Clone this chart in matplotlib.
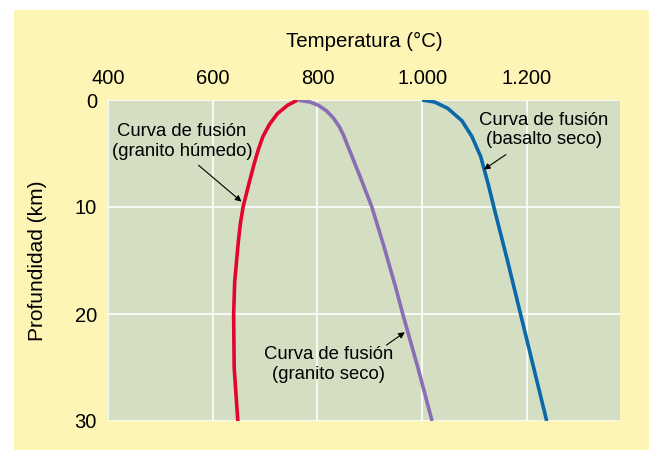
import matplotlib.pyplot as plt
from matplotlib.patches import Rectangle

# ---------------- data ----------------
# granito humedo (red)
hum_depth = [0, 0.49, 1.26, 2.23, 3.4, 4.66, 6.0, 7.57, 10, 11.5, 13.2, 17.0, 20, 25, 30]
hum_temp = [762, 743, 724, 709, 696, 687, 679, 670.5, 658, 653, 649, 642, 640, 641, 648]

# granito seco (purple)
gsec_depth = [0, 0.19, 0.5, 1.0, 1.65, 2.5, 3.3, 4.17, 7.09, 10, 13.5, 17.6, 20, 25.2, 30]
gsec_temp = [762, 786, 802, 817, 830, 842, 850, 857, 881, 904, 926, 950, 963, 993, 1019]

# basalto seco (blue)
bas_depth = [0, 0.19, 0.78, 1.94, 3.4, 5.3, 8.0, 10, 15, 20, 25, 30]
bas_temp = [1000, 1024, 1049, 1076, 1095, 1112, 1127, 1137, 1163, 1188, 1213, 1238]

xticks = [400, 600, 800, 1000, 1200]
xtick_labels = ['400', '600', '800', '1.000', '1.200']
yticks = [0, 10, 20, 30]

# ---------------- figure ----------------
plt.rcParams['font.family'] = ['Liberation Sans', 'DejaVu Sans']

fig = plt.figure(figsize=(6.49, 4.5), dpi=100)
fig.patch.set_facecolor('white')
fig.patches.append(Rectangle((14 / 649, 0), 1 - 14 / 649, 1 - 10 / 450,
                             transform=fig.transFigure, facecolor='#fcf5b5',
                             edgecolor='none', zorder=-10))

ax = fig.add_axes([108 / 649, 1 - 421 / 450, 512 / 649, 321 / 450])
ax.set_facecolor('#d3dec3')

ax.plot(hum_temp, hum_depth, color='#e2062c', lw=2.6, solid_capstyle='butt',
        solid_joinstyle='round', zorder=3)
ax.plot(gsec_temp, gsec_depth, color='#8a6db4', lw=2.6, solid_capstyle='butt',
        solid_joinstyle='round', zorder=3)
ax.plot(bas_temp, bas_depth, color='#0b68aa', lw=2.6, solid_capstyle='butt',
        solid_joinstyle='round', zorder=3)

ax.set_xlim(400, 1378)
ax.set_ylim(30, 0)
ax.set_xticks(xticks)
ax.set_xticklabels(xtick_labels)
ax.set_yticks(yticks)
ax.xaxis.tick_top()
ax.tick_params(axis='x', length=0, pad=9, labelsize=14.5)
ax.tick_params(axis='y', length=0, pad=8, labelsize=14.5)

ax.grid(True, color='white', lw=1.2)
ax.set_axisbelow(True)
for sp in ax.spines.values():
    sp.set_visible(False)

ax.set_xlabel('Temperatura (°C)', fontsize=14.7)
ax.xaxis.set_label_position('top')
ax.xaxis.set_label_coords(0.5, (421 - 47) / 321, transform=ax.transAxes)
ax.set_ylabel('Profundidad (km)', fontsize=15)
ax.yaxis.set_label_coords(-61 / 512, 0.5, transform=ax.transAxes)

arrow = dict(arrowstyle='-|>', color='black', lw=0.8, mutation_scale=9,
             shrinkA=0, shrinkB=0)
ax.annotate('Curva de fusión\n(granito húmedo)', xy=(655, 9.5), xytext=(541, 3.9),
            ha='center', va='center', fontsize=13.3, linespacing=1.2)
ax.annotate('', xy=(655, 9.5), xytext=(573, 6.1), arrowprops=arrow)

ax.annotate('Curva de fusión\n(basalto seco)', xy=(1118, 6.5), xytext=(1232, 2.8),
            ha='center', va='center', fontsize=13.3, linespacing=1.2)
ax.annotate('', xy=(1118, 6.5), xytext=(1160, 5.1), arrowprops=arrow)

ax.annotate('Curva de fusión\n(granito seco)', xy=(967, 21.7), xytext=(822, 24.7),
            ha='center', va='center', fontsize=13.3, linespacing=1.2)
ax.annotate('', xy=(967, 21.7), xytext=(932, 22.9), arrowprops=arrow)

fig.savefig('out.png', dpi=100, facecolor=fig.get_facecolor())
